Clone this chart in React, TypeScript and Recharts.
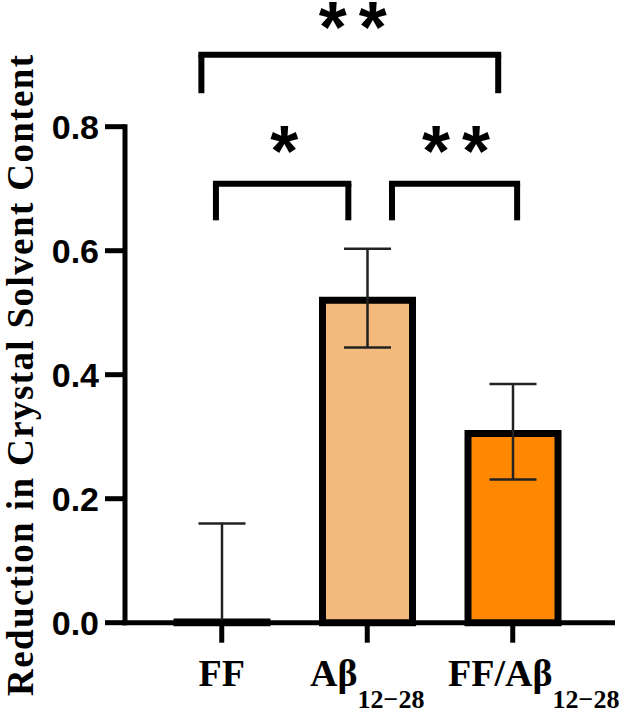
import React from 'react';
import {
  ComposedChart,
  Bar,
  XAxis,
  YAxis,
  ErrorBar,
  ReferenceLine,
  ReferenceDot,
  Cell,
  Label,
} from 'recharts';

// ---------- data ----------
const categories = ['FF', 'Aβ', 'FF/Aβ'];
const subscripts = ['', '12−28', '12−28'];
const means = [0.001, 0.52, 0.305];
const errLow = [0, 0.076, 0.074];
const errHigh = [0.159, 0.083, 0.08];
const yTicks = [0, 0.2, 0.4, 0.6, 0.8];
const barColors = ['#ffffff', '#F3B97D', '#FF8800'];

// significance brackets (x in category-index units, y in data units)
const bracketFrom = [-0.14, -0.04, 1.17];
const bracketTo = [1.9, 0.87, 2.03];
const bracketTop = [0.916, 0.708, 0.708];
const bracketBottom = [0.854, 0.649, 0.649];
const starText = ['**', '*', '**'];
const starX = [0.9, 0.43, 1.61];
const starY = [0.974, 0.774, 0.774];

// ---------- style ----------
const labelDx = [0, 0, 21];
const SERIF = "'Liberation Serif','Times New Roman',Times,serif";
const SANS = "'Liberation Sans',Arial,Helvetica,sans-serif";
const STAR_FS = 72;
const STAR_GAP = 40;
const CAT_PAD = { left: 24, right: 27 };
const IDX_PAD = { left: 96.75, right: 99.75 };

const data = categories.map((c, i) => ({
  name: c,
  idx: i,
  value: means[i],
  err: [errLow[i], errHigh[i]],
}));

const XTick = (props: any) => {
  const { x, y, payload } = props;
  const i = categories.indexOf(payload.value);
  return (
    <g transform={`translate(${x + labelDx[i]},${y})`}>
      <text
        x={0}
        y={43.5}
        textAnchor="middle"
        fontFamily={SERIF}
        fontWeight="bold"
        fontSize={38}
        fill="#000"
      >
        {payload.value}
        {subscripts[i] ? (
          <tspan dy={22} fontSize={26}>
            {subscripts[i]}
          </tspan>
        ) : null}
      </text>
    </g>
  );
};

const TitleLabel = (props: any) => {
  const vb = props.viewBox;
  const cy = vb.y + vb.height / 2;
  const x = 33;
  return (
    <text
      x={x}
      y={cy}
      transform={`rotate(-90, ${x}, ${cy})`}
      textAnchor="middle"
      fontFamily={SERIF}
      fontWeight="bold"
      fontSize={37}
      letterSpacing={1.4}
      fill="#000"
    >
      Reduction in Crystal Solvent Content
    </text>
  );
};

const makeStars = (text: string) => (p: any) => {
  const vb = p.viewBox;
  const cx = vb.x + vb.width / 2;
  const cy = vb.y + vb.height / 2;
  const chars = Array.from(text);
  const n = chars.length;
  return (
    <g>
      {chars.map((ch, k) => (
        <text
          key={k}
          x={cx + (k - (n - 1) / 2) * STAR_GAP}
          y={cy + 0.46 * STAR_FS}
          textAnchor="middle"
          fontFamily={SANS}
          fontWeight="bold"
          fontSize={STAR_FS}
          fill="#000"
        >
          {ch}
        </text>
      ))}
    </g>
  );
};

export default function App() {
  const lineStyle = { stroke: '#000', strokeWidth: 6 };
  return (
    <div style={{ position: 'absolute', left: 0, top: 0, background: '#fff' }}>
      <ComposedChart
        width={625}
        height={714}
        data={data}
        margin={{ top: 126.7, right: 12.5, bottom: 0, left: 0 }}
      >
        <XAxis
          dataKey="name"
          interval={0}
          height={91.3}
          padding={CAT_PAD}
          tickSize={20}
          tickMargin={0}
          axisLine={{ stroke: '#000', strokeWidth: 5, strokeLinecap: 'square' }}
          tickLine={{ stroke: '#000', strokeWidth: 5 }}
          tick={<XTick />}
        />
        <XAxis
          xAxisId="n"
          dataKey="idx"
          type="number"
          domain={['dataMin', 'dataMax']}
          padding={IDX_PAD}
          hide
        />
        <YAxis
          domain={[0, 0.8]}
          ticks={yTicks}
          width={125}
          tickSize={20}
          tickMargin={6}
          tickFormatter={(v: number) => v.toFixed(1)}
          axisLine={{ stroke: '#000', strokeWidth: 5, strokeLinecap: 'square' }}
          tickLine={{ stroke: '#000', strokeWidth: 5 }}
          tick={{ fontFamily: SANS, fontWeight: 'bold', fontSize: 34, fill: '#000' }}
        >
          <Label content={TitleLabel} />
        </YAxis>
        <Bar
          dataKey="value"
          barSize={90}
          stroke="#000"
          strokeWidth={7}
          isAnimationActive={false}
        >
          {data.map((d, i) => (
            <Cell key={d.name} fill={barColors[i]} />
          ))}
          <ErrorBar
            dataKey="err"
            width={23.5}
            stroke="#222"
            strokeWidth={2.5}
            direction="y"
            isAnimationActive={false}
          />
        </Bar>
        {bracketFrom.map((_, i) => (
          <ReferenceLine
            key={`h${i}`}
            xAxisId="n"
            ifOverflow="visible"
            segment={[
              { x: bracketFrom[i], y: bracketTop[i] },
              { x: bracketTo[i], y: bracketTop[i] },
            ]}
            {...lineStyle}
            strokeLinecap="square"
          />
        ))}
        {bracketFrom.map((_, i) => (
          <ReferenceLine
            key={`l${i}`}
            xAxisId="n"
            ifOverflow="visible"
            segment={[
              { x: bracketFrom[i], y: bracketTop[i] },
              { x: bracketFrom[i], y: bracketBottom[i] },
            ]}
            {...lineStyle}
          />
        ))}
        {bracketFrom.map((_, i) => (
          <ReferenceLine
            key={`r${i}`}
            xAxisId="n"
            ifOverflow="visible"
            segment={[
              { x: bracketTo[i], y: bracketTop[i] },
              { x: bracketTo[i], y: bracketBottom[i] },
            ]}
            {...lineStyle}
          />
        ))}
        {starText.map((t, i) => (
          <ReferenceDot
            key={`s${i}`}
            xAxisId="n"
            x={starX[i]}
            y={starY[i]}
            r={0}
            fill="none"
            stroke="none"
            ifOverflow="visible"
            label={makeStars(t)}
          />
        ))}
      </ComposedChart>
    </div>
  );
}
